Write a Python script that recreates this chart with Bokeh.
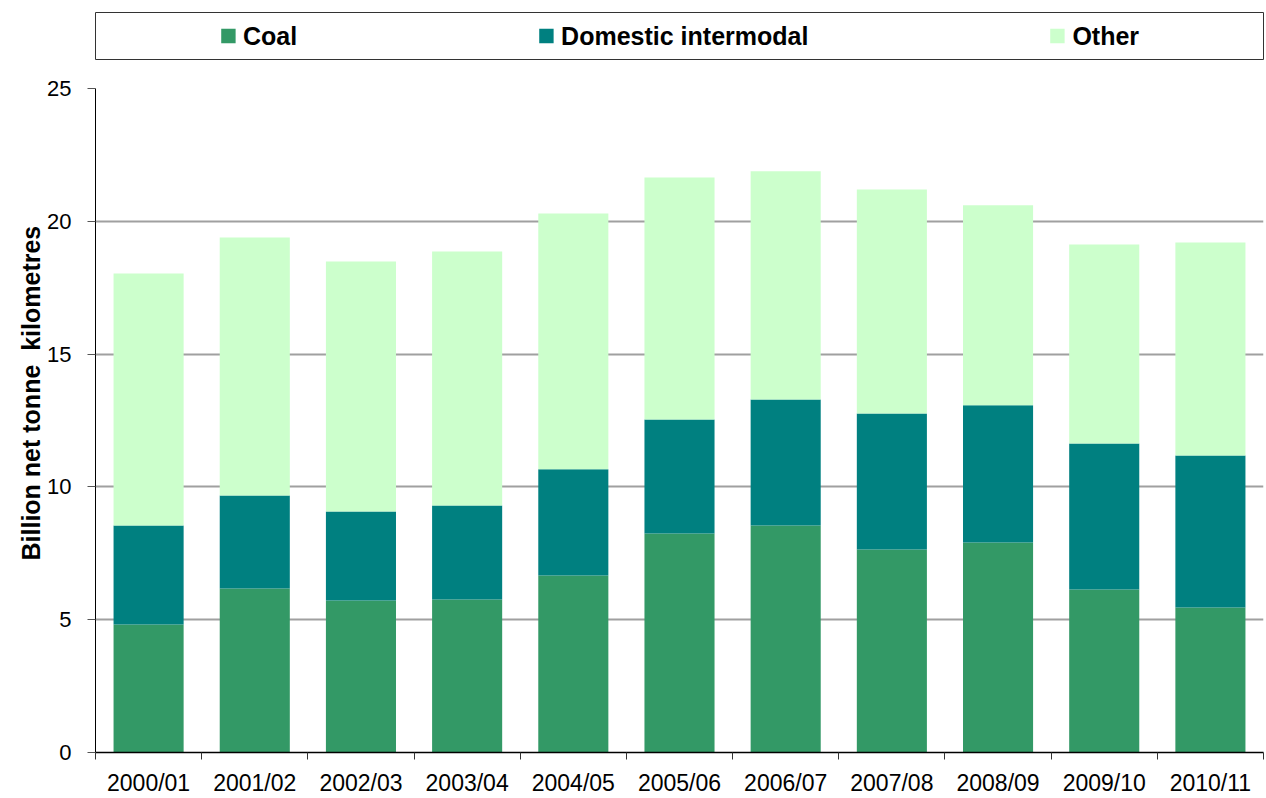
from bokeh.plotting import figure
from bokeh.models import ColumnDataSource, Range1d, FixedTicker, Legend, LegendItem, Title
from bokeh.layouts import column
from bokeh.embed import file_html
from bokeh.resources import INLINE

years = ["2000/01", "2001/02", "2002/03", "2003/04", "2004/05", "2005/06",
         "2006/07", "2007/08", "2008/09", "2009/10", "2010/11"]
coal = [4.82, 6.17, 5.72, 5.76, 6.66, 8.25, 8.55, 7.64, 7.91, 6.14, 5.46]
domestic = [3.73, 3.51, 3.35, 3.54, 4.00, 4.29, 4.74, 5.12, 5.16, 5.49, 5.72]
other = [9.48, 9.71, 9.42, 9.56, 9.63, 9.11, 8.59, 8.44, 7.53, 7.50, 8.02]
y_ticks = [0, 5, 10, 15, 20, 25]

series = ["Coal", "Domestic intermodal", "Other"]
colors = ["#339966", "#008080", "#CCFFCC"]

FONT = "Liberation Sans"
n = len(years)
xpos = [i + 0.5 for i in range(n)]
src = ColumnDataSource(dict(x=xpos, Coal=coal, **{"Domestic intermodal": domestic}, Other=other))

# ---- legend strip ----
lf = figure(width=1266, height=70, x_range=Range1d(0, 1), y_range=Range1d(0, 1),
            x_axis_location=None, y_axis_location=None, toolbar_location=None,
            output_backend="svg", min_border_left=93, min_border_right=3,
            min_border_top=12, min_border_bottom=11)
lf.grid.visible = False
lf.outline_line_color = "#333333"
lf.outline_line_width = 1
items = []
for name, c in zip(series, colors):
    # legend proxies, outside the visible range
    r = lf.quad(left=[2], right=[3], top=[3], bottom=[2], fill_color=c, line_color=None)
    items.append(LegendItem(label=name, renderers=[r]))
leg = Legend(items=items, orientation="horizontal", location="center",
             spacing=240, padding=0, margin=0, glyph_width=18, glyph_height=18,
             label_standoff=6, label_text_font=FONT, label_text_font_size="25px",
             label_text_font_style="bold", label_text_color="#000000",
             border_line_color=None, background_fill_alpha=0)
lf.add_layout(leg, "center")

# ---- main chart ----
p = figure(width=1266, height=728, x_range=Range1d(0, n), y_range=Range1d(0, 25),
           toolbar_location=None, output_backend="svg",
           min_border_left=95, min_border_right=0, min_border_top=18, min_border_bottom=46)
p.vbar_stack(series, x="x", width=0.66, source=src, color=colors, line_color=None)

p.outline_line_color = None
p.xgrid.visible = False
p.ygrid.ticker = FixedTicker(ticks=y_ticks)
p.ygrid.grid_line_color = "#a0a0a0"
p.ygrid.grid_line_width = 2

p.yaxis.ticker = FixedTicker(ticks=y_ticks)
p.yaxis.axis_line_color = "#000000"
p.yaxis.major_tick_line_color = "#555555"
p.yaxis.major_tick_out = 8
p.yaxis.major_tick_in = 0
p.yaxis.minor_tick_line_color = None
p.yaxis.major_label_text_font = FONT
p.yaxis.major_label_text_font_size = "22px"
p.yaxis.major_label_text_color = "#000000"
p.yaxis.major_label_standoff = 16

ytitle = Title(text="Billion net tonne\u00a0 kilometres", align="left", offset=192,
               text_font=FONT, text_font_size="25px", text_font_style="bold",
               text_color="#000000", standoff=0)
p.add_layout(ytitle, "left")

p.xaxis.ticker = FixedTicker(ticks=xpos, minor_ticks=list(range(n + 1)))
p.xaxis.major_label_overrides = {x: y for x, y in zip(xpos, years)}
p.xaxis.axis_line_color = "#000000"
p.xaxis.axis_line_width = 1.5
p.xaxis.major_tick_line_color = None
p.xaxis.minor_tick_line_color = "#333333"
p.xaxis.minor_tick_out = 7
p.xaxis.minor_tick_in = 0
p.xaxis.major_label_text_font = FONT
p.xaxis.major_label_text_font_size = "23px"
p.xaxis.major_label_text_color = "#000000"
p.xaxis.major_label_standoff = 10

layout = column(lf, p, spacing=0)
open("out.html", "w").write(file_html(layout, INLINE))
